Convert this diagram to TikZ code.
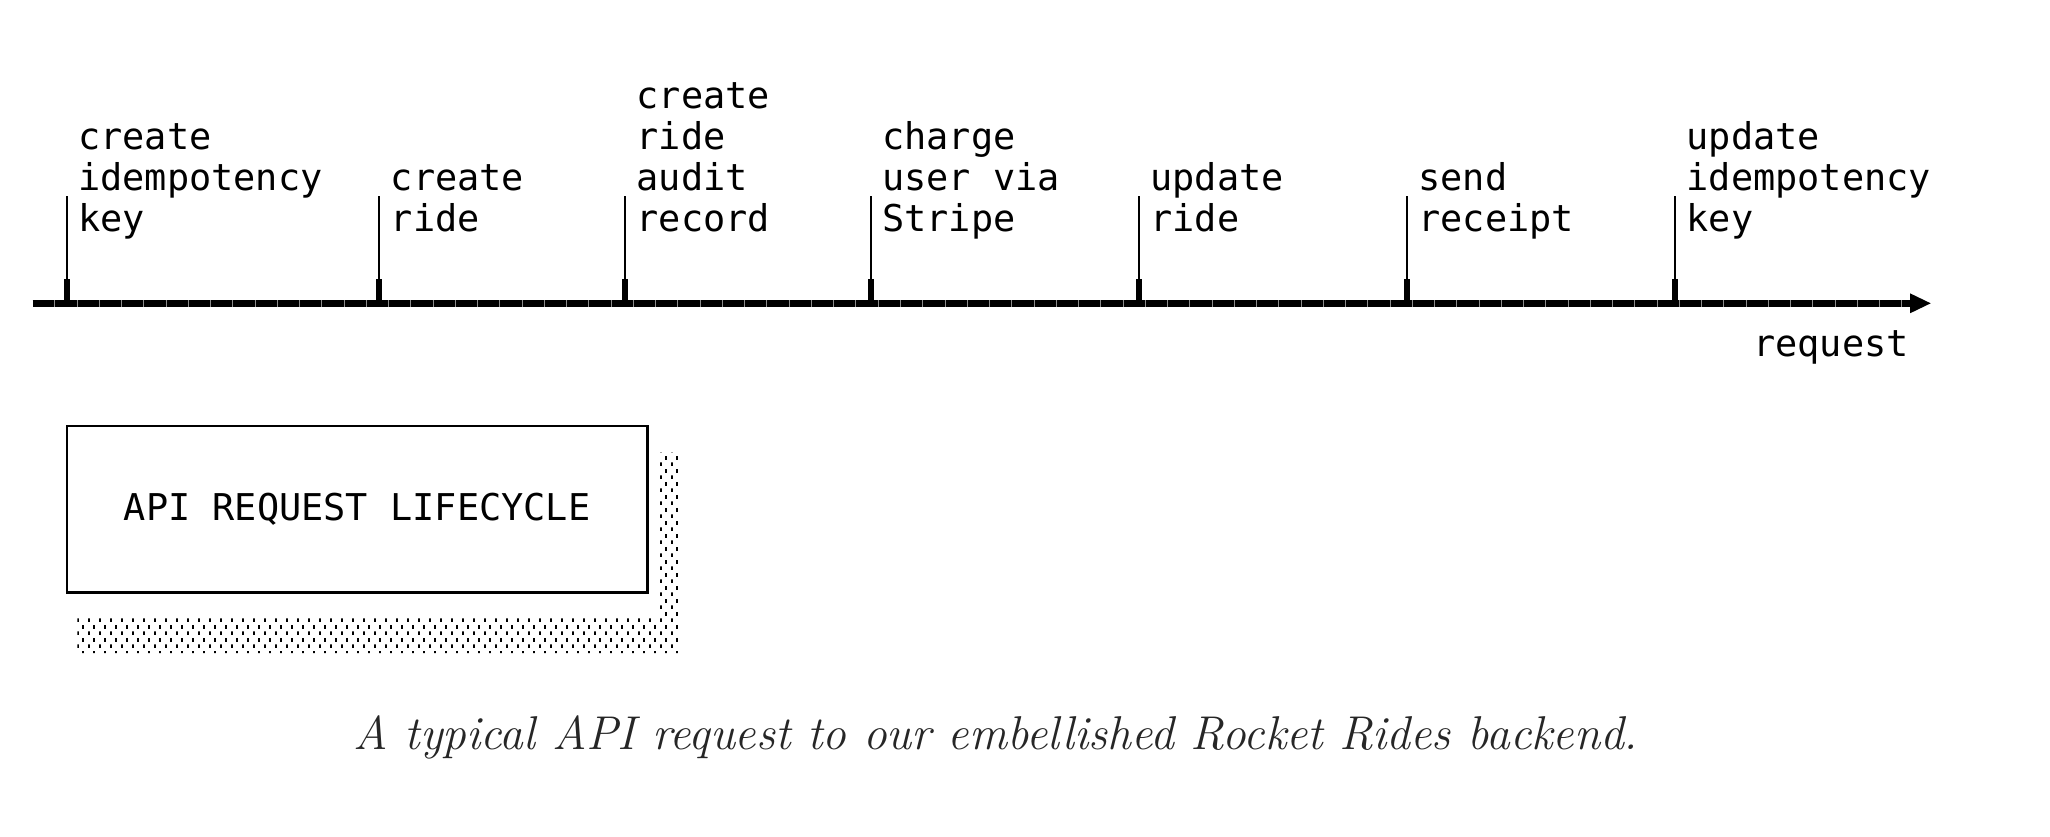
\documentclass[tikz,border=0pt]{standalone}
\usepackage{fontspec}
\usetikzlibrary{arrows.meta,patterns.meta}

\newfontfamily\gridfont{DejaVu Sans Mono}
\newcommand\gridtext{\gridfont\fontsize{21pt}{23.47pt}\selectfont}

\tikzdeclarepattern{
  name=shadedots,
  type=uncolored,
  bottom left={(0pt,0pt)},
  top right={(6.35pt,7.14pt)},
  tile size={(6.35pt,7.14pt)},
  code={
    \pgfpathrectangle{\pgfpointorigin}{\pgfpoint{1.1pt}{2.2pt}}
    \pgfpathrectangle{\pgfpoint{3.17pt}{3.57pt}}{\pgfpoint{1.1pt}{2.2pt}}
    \pgfusepath{fill}
  }
}

\begin{document}
\begin{tikzpicture}
      [
        x = 0.02cm, y = -0.02cm,
        step label/.style = {font=\gridtext, align=left, inner sep=0pt, anchor=base west},
        axis line/.style = {line width=3.8pt,
            -{Triangle[length=11.7pt, width=11.3pt, line width=0pt]}},
        cell seams/.style = {line width=3.8pt, black!45,
            dash pattern=on 0.3pt off 12.365pt, dash phase=0.3pt},
        tick thin/.style = {line width=1.2pt},
        tick thick/.style = {line width=3.4pt},
      ]

      \useasboundingbox (0,0) rectangle (2050,836);

      \coordinate (start) at (32.7,303.3);
      \coordinate (shaft) at (1909.3,303.3);
      \coordinate (end) at (1930.7,303.3);
      \draw[axis line] (start) -- (end);
      \draw[cell seams] (start) -- (shaft);

      \foreach \x/\txt [count=\i] in {
          66.7/{create\\idempotency\\key},
          379.4/{create\\ride},
          625.1/{create\\ride\\audit\\record},
          870.8/{charge\\user via\\Stripe},
          1138.9/{update\\ride},
          1407/{send\\receipt},
          1675.1/{update\\idempotency\\key}} {
          \coordinate (tick\i) at (\x,303.3);
          \draw[tick thin] (tick\i) -- ++(0,-107.3);
          \draw[tick thick] (tick\i) -- ++(0,-24.8);
          \node[step label] (step\i) at (\x+11.17,231.7) {\txt};
        }

      \node[step label] (request) at (1752.8,356.6) {request};

      \fill[pattern=shadedots] (658.7,452.7) -- (681,452.7) -- (681,653)
        -- (77.3,653) -- (77.3,618) -- (658.7,618) -- cycle;
      \node[draw, line width=1.4pt, fill=white, font=\gridtext,
        minimum width=11.616cm, minimum height=3.322cm] (lifecycle)
        at (357.1,509.25) {API REQUEST LIFECYCLE};

      \node[anchor=base, font=\itshape\fontsize{27pt}{31pt}\selectfont, text=black!85]
        (caption) at (996,749) {A typical API request to our embellished Rocket Rides backend.};
    \end{tikzpicture}
\end{document}
